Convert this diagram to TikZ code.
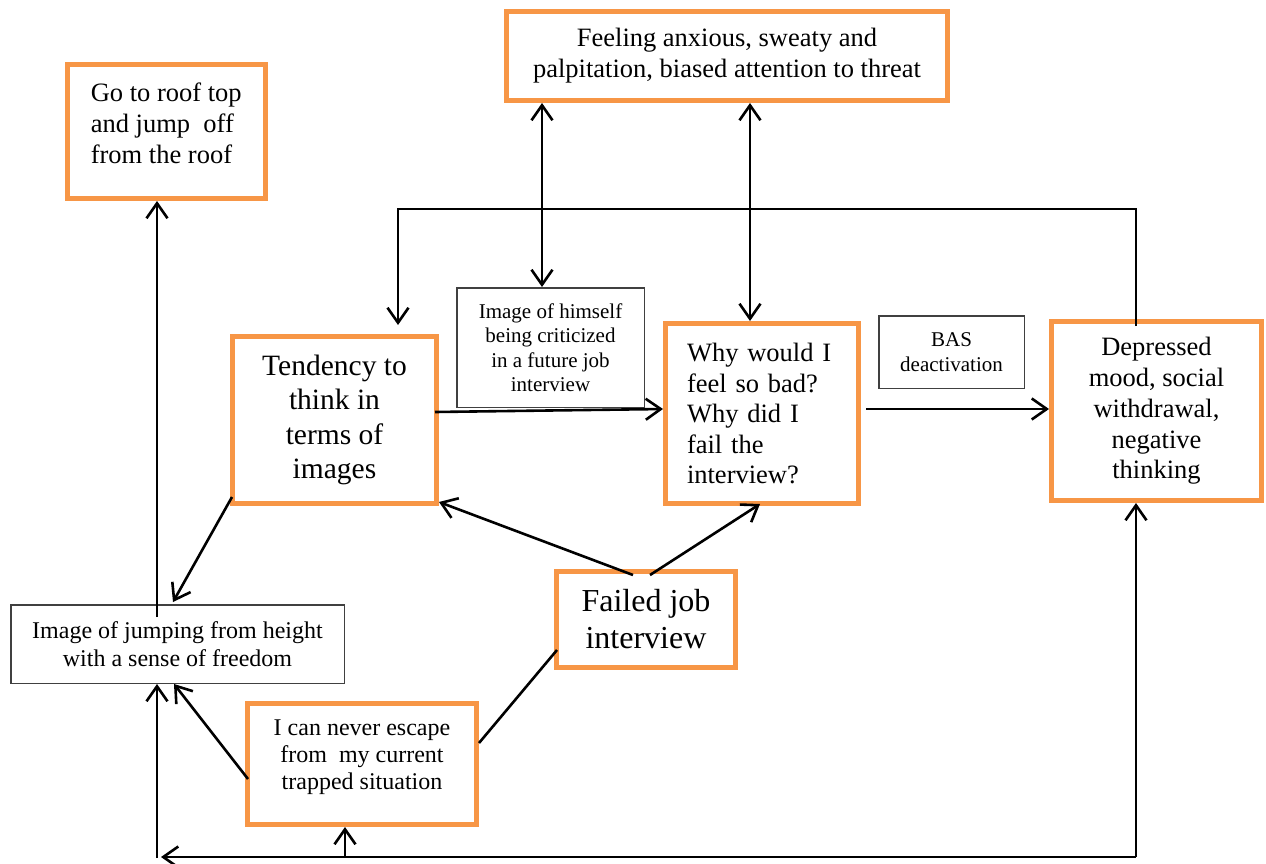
\documentclass[tikz,border=0pt]{standalone}
\usepackage{fontspec}
\setmainfont{Liberation Serif}
\usetikzlibrary{arrows.meta}
\definecolor{boxorange}{HTML}{F79646}
\definecolor{boxgray}{HTML}{404040}
\begin{document}
\begin{tikzpicture}[x=1pt,y=-1pt,
  obox/.style={draw=boxorange, line width=5pt, fill=white, rectangle, inner sep=0pt, align=center, text=black},
  tbox/.style={draw=boxgray, line width=1.5pt, fill=white, rectangle, inner sep=0pt, align=center, text=black},
  conn/.style={line width=2.6pt, draw=black},
  barb/.tip={Straight Barb[length=15pt,width=21pt]},
  arr/.style={conn, -barb},
  darr/.style={conn, barb-barb},
  fmid/.style={font=\fontsize{26.5}{31}\selectfont},
  fwhy/.style={font=\fontsize{26.5}{30.5}\selectfont},
  fbig/.style={font=\fontsize{29.5}{34.5}\selectfont},
  fhuge/.style={font=\fontsize{32}{37}\selectfont},
  fimg/.style={font=\fontsize{24}{28}\selectfont},
  fican/.style={font=\fontsize{24}{27}\selectfont},
  fsmall/.style={font=\fontsize{21}{24.5}\selectfont},
]
\fill[white] (0,0) rectangle (1266,864);
\useasboundingbox (0,0) rectangle (1266,864);

% boxes
\node[obox, fmid, minimum width=441pt, minimum height=89pt] (feel) at (727,56)
  {Feeling anxious, sweaty and\\palpitation, biased attention to threat};
\node[obox, fmid, minimum width=198.5pt, minimum height=134pt, align=left] (goroof) at (166.25,131.5)
  {Go to roof top\\and jump~ off\\from the roof\rule[-16pt]{0pt}{0pt}};
\node[obox, fbig, minimum width=204pt, minimum height=167pt] (tend) at (334.5,420)
  {Tendency to\\think in\\terms of\\images};
\node[tbox, fsmall, minimum width=187.5pt, minimum height=119.5pt] (himself) at (550.5,347.5)
  {Image of himself\\being criticized\\in a future job\\interview};
\node[obox, fwhy, minimum width=193pt, minimum height=180pt, text width=150pt, align=left] (why) at (762,413.5)
  {Why would I\\feel so bad?\\Why did I\\fail the\\interview?};
\node[tbox, fsmall, minimum width=145.5pt, minimum height=72.5pt] (bas) at (951.5,352)
  {BAS\\deactivation};
\node[obox, fmid, font=\fontsize{26.5}{30.8}\selectfont, minimum width=210pt, minimum height=179pt] (dep) at (1156.5,411)
  {Depressed\\mood, social\\withdrawal,\\negative\\thinking};
\node[tbox, fimg, minimum width=333.5pt, minimum height=78.5pt] (img) at (177.5,644)
  {Image of jumping from height\\with a sense of freedom};
\node[obox, fhuge, minimum width=179pt, minimum height=96pt] (failed) at (646,619.5)
  {Failed job\\interview};
\node[obox, fican, minimum width=229pt, minimum height=121pt] (ican) at (362,764)
  {I can never escape\\from~ my current\\trapped situation\rule[-19pt]{0pt}{0pt}};

% helper coordinates
\coordinate (xl) at (157,0);
\coordinate (xdl) at (542,0);
\coordinate (xdr) at (750,0);
\coordinate (xr) at (1136,0);
\coordinate (xt) at (398,0);
\coordinate (xi) at (173,0);
\coordinate (xc) at (345,0);
\coordinate (top) at (0,209);
\coordinate (bot) at (0,857);

% connectors
\draw[darr] (feel.south -| xdl) -- (himself.north -| xdl);
\draw[darr] (feel.south -| xdr) -- (why.north -| xdr);
\draw[arr] ([yshift=-7pt]dep.north -| xr) -- (xr |- top) -- (xt |- top) -- ([yshift=9pt]tend.north -| xt);
\draw[arr] ([xshift=-4pt,yshift=8pt]tend.east) -- ([yshift=4.5pt]why.west);
\draw[arr] ([xshift=5pt,yshift=4.5pt]why.east) -- ([yshift=2pt]dep.west);
\draw[arr] ([yshift=-13pt]img.north -| xl) -- (goroof.south -| xl);
\draw[arr] ([yshift=-1pt]xl |- bot) -- (img.south -| xl);
\draw[arr] (xr |- bot) -- (dep.south -| xr);
\draw[arr] (xr |- bot) -- ([xshift=4pt]xl |- bot);
\draw[arr] (xc |- bot) -- (ican.south -| xc);
\draw[arr] ([xshift=2pt,yshift=9pt]tend.south west) -- ([yshift=2pt]img.north -| xi);
\draw[arr] ([xshift=-13pt,yshift=-6pt]failed.north) -- ([yshift=4pt]tend.south east);
\draw[arr] ([xshift=4pt,yshift=-6pt]failed.north) -- ([xshift=-2pt,yshift=2pt]why.south);
\draw[conn] ([xshift=3pt,yshift=-30.5pt]failed.west) -- ([yshift=21pt]ican.east);
\draw[arr] ([xshift=3pt,yshift=-15pt]ican.west) -- ([xshift=1pt]img.south -| xi);
\end{tikzpicture}
\end{document}
